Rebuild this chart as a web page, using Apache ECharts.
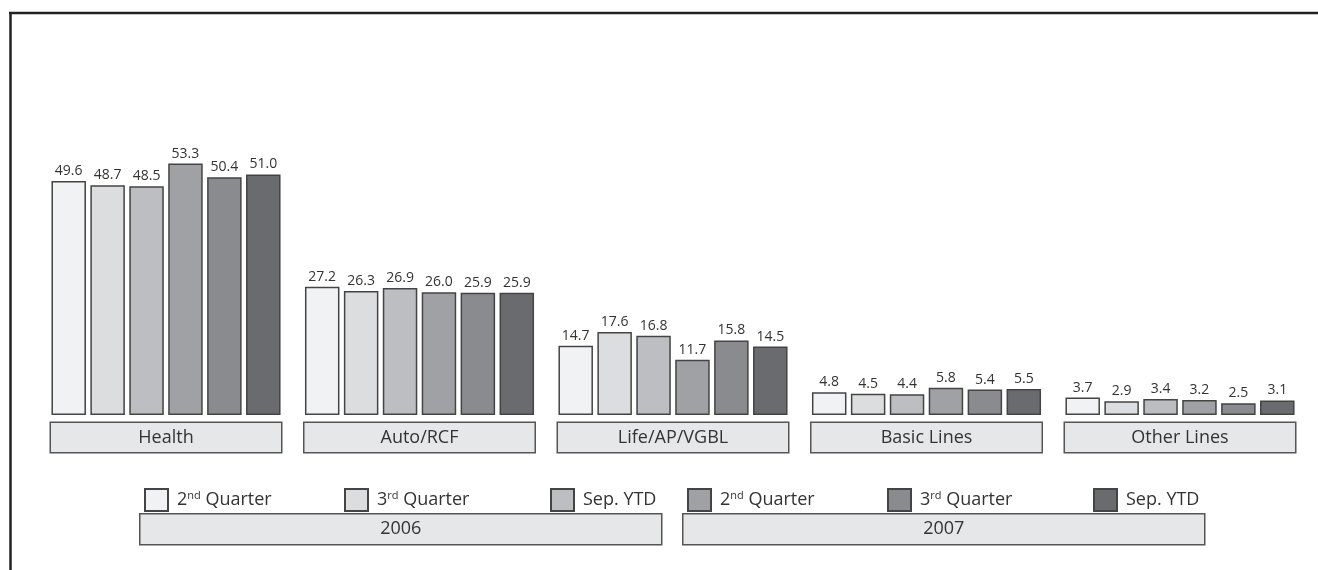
<!DOCTYPE html>
<html>
<head>
<meta charset="utf-8">
<script src="https://cdn.jsdelivr.net/npm/echarts@6/dist/echarts.min.js"></script>
<style>
html,body{margin:0;padding:0;background:#fff;}
#chart{width:1318px;height:570px;}
</style>
</head>
<body>
<div id="chart"></div>
<script>
var categories = ['Health', 'Auto/RCF', 'Life/AP/VGBL', 'Basic Lines', 'Other Lines'];
var q2_2006 = [49.6, 27.2, 14.7, 4.8, 3.7];
var q3_2006 = [48.7, 26.3, 17.6, 4.5, 2.9];
var ytd_2006 = [48.5, 26.9, 16.8, 4.4, 3.4];
var q2_2007 = [53.3, 26.0, 11.7, 5.8, 3.2];
var q3_2007 = [50.4, 25.9, 15.8, 5.4, 2.5];
var ytd_2007 = [51.0, 25.9, 14.5, 5.5, 3.1];
var seriesNames = ['2006 2nd Quarter', '2006 3rd Quarter', '2006 Sep. YTD', '2007 2nd Quarter', '2007 3rd Quarter', '2007 Sep. YTD'];
var legendLabels = ['{n|2}{s|nd}{n| Quarter}', '{n|3}{s|rd}{n| Quarter}', '{n|Sep. YTD}', '{n|2}{s|nd}{n| Quarter}', '{n|3}{s|rd}{n| Quarter}', '{n|Sep. YTD}'];
var years = ['2006', '2007'];

var seriesData = [q2_2006, q3_2006, ytd_2006, q2_2007, q3_2007, ytd_2007];
var colors = ['#f1f2f4', '#dcdddf', '#bdbec1', '#a0a1a4', '#8a8b8e', '#6a6b6f'];
var FONT = 'Open Sans';
var legendLefts = [139, 339, 545, 682, 882, 1088];

var chart = echarts.init(document.getElementById('chart'));

var series = seriesData.map(function (d, i) {
  return {
    name: seriesNames[i],
    type: 'bar',
    data: d,
    barWidth: 34.5,
    barGap: '12.8%',
    itemStyle: { color: colors[i], borderColor: '#444', borderWidth: 1.5 },
    label: {
      show: true, position: 'top', distance: 3,
      fontFamily: FONT, fontSize: 14, color: '#333',
      formatter: function (p) { return p.value.toFixed(1); }
    },
    emphasis: { disabled: true }
  };
});

var legends = seriesNames.map(function (n, i) {
  return {
    data: [n],
    left: legendLefts[i],
    top: 483,
    itemWidth: 23,
    itemHeight: 22,
    icon: 'rect',
    selectedMode: false,
    formatter: function () { return legendLabels[i]; },
    textStyle: {
      padding: [0, 0, 0, 4],
      rich: {
        n: { fontFamily: FONT, fontSize: 18, color: '#333', lineHeight: 22 },
        s: { fontFamily: FONT, fontSize: 11, color: '#333', lineHeight: 22, verticalAlign: 'top', padding: [1, 0, 0, 0] }
      }
    }
  };
});

var yearBoxes = years.map(function (y, i) {
  return {
    type: 'group',
    left: i === 0 ? 139 : 682,
    top: 513,
    children: [
      { type: 'rect', shape: { x: 0, y: 0, width: 522, height: 31 }, style: { fill: '#e6e7e8', stroke: '#555', lineWidth: 1.5 } },
      { type: 'text', x: 261, y: 15.5, style: { text: y, fontFamily: FONT, fontSize: 18, fill: '#333', align: 'center', verticalAlign: 'middle' } }
    ]
  };
});

chart.setOption({
  animation: false,
  backgroundColor: '#ffffff',
  grid: { left: 39.25, width: 1267.5, top: 14, bottom: 155 },
  legend: legends,
  xAxis: {
    type: 'category',
    data: categories,
    axisLine: { show: false },
    axisTick: { show: false },
    axisLabel: {
      margin: 8,
      fontFamily: FONT, fontSize: 18, color: '#333',
      width: 230, height: 29, lineHeight: 29,
      backgroundColor: '#e6e7e8', borderColor: '#555', borderWidth: 1.5,
      align: 'center'
    }
  },
  yAxis: {
    type: 'value', min: 0, max: 85,
    show: false, splitLine: { show: false }
  },
  series: series,
  graphic: [
    { type: 'line', shape: { x1: 9, y1: 13, x2: 1318, y2: 13 }, style: { stroke: '#222', lineWidth: 2.5 } },
    { type: 'line', shape: { x1: 10.5, y1: 12, x2: 10.5, y2: 570 }, style: { stroke: '#222', lineWidth: 2.5 } }
  ].concat(yearBoxes)
});
</script>
</body>
</html>
